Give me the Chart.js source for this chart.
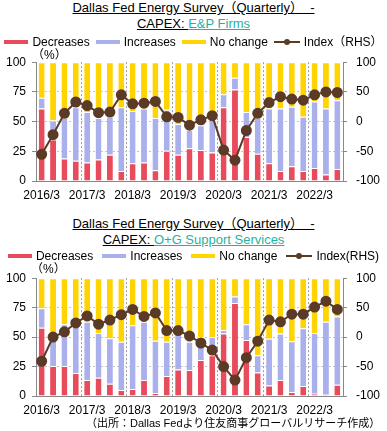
<!DOCTYPE html>
<html>
<head>
<meta charset="utf-8">
<script src="https://cdn.jsdelivr.net/npm/chart.js@4.4.0/dist/chart.umd.min.js"></script>
<style>
body { margin:0; width:387px; height:431px; background:#fff; position:relative; overflow:hidden;
  font-family: Arial, "Liberation Sans", "Noto Sans CJK JP", sans-serif; color:#000; }
canvas { position:absolute; left:0; }
.title { position:absolute; left:0; width:387px; text-align:center; font-size:13px; line-height:16px; white-space:pre; }
.title span { text-decoration: underline; }
.teal { color:#1fb3a3; }
.legend { position:absolute; left:0; width:387px; display:flex; justify-content:center; font-size:12px; line-height:14px; white-space:nowrap; }
.legend .item { display:flex; align-items:center; }
.legend .mark { width:24px; height:4px; margin-right:4px; }
.legend .lmark { position:relative; width:26px; height:2px; margin-right:4px; }
.legend .lmark i { position:absolute; left:10px; top:-2px; width:6px; height:6px; border-radius:3px; }
.pct { position:absolute; font-size:12px; line-height:14px; }
.src { position:absolute; left:86px; top:416px; font-size:11px; line-height:14px; white-space:nowrap;
  font-family: Arial, "Liberation Sans", "Noto Sans CJK JP", sans-serif; }
</style>
</head>
<body>
<canvas id="chart1" width="387" height="160" style="top:46px"></canvas>
<canvas id="chart2" width="387" height="159" style="top:262px"></canvas>

<div class="title" style="top:0px"><span>Dallas Fed Energy Survey（Quarterly）  -</span></div>
<div class="title" style="top:16px"><span>CAPEX: </span><span class="teal">E&amp;P Firms</span></div>
<div class="legend" id="legend1" style="top:35px"></div>
<div class="pct" style="left:32px; top:48px">（%）</div>

<div class="title" style="top:216px"><span>Dallas Fed Energy Survey（Quarterly）  -</span></div>
<div class="title" style="top:232px"><span>CAPEX: </span><span class="teal">O+G Support Services</span></div>
<div class="legend" id="legend2" style="top:249px"></div>
<div class="pct" style="left:31px; top:262px">（%）</div>

<div class="src">（出所：Dallas Fedより住友商事グローバルリサーチ作成）</div>

<script>
const labels = ['2016/3','2016/6','2016/9','2016/12','2017/3','2017/6','2017/9','2017/12',
  '2018/3','2018/6','2018/9','2018/12','2019/3','2019/6','2019/9','2019/12',
  '2020/3','2020/6','2020/9','2020/12','2021/3','2021/6','2021/9','2021/12',
  '2022/3','2022/6','2022/9'];

// E&P firms (%), index on right axis
const dec1 = [61,35,19,17,15.5,18,22,8.5,15,15.5,9,25.5,22,27.5,26,24,62,77,37,23,15,8.5,12.5,8.5,11,5.5,10];
const inc1 = [9,16,34,45,42.5,35,32,53.5,44,45.5,44,34.5,26,15.5,21,28,11,10,21,30,46,52.5,50,45.5,56,55.5,58];
const noch1 = [30,49,47,38,42,47,46,38,41,39,47,40,52,57,53,48,27,13,42,47,39,39,37.5,46,33,39,32];
const idx1 = [-55,-22,14,33,27,15,16,45,30,31,34,8,7,-6,3,10,-48,-65,-15,14,32,42,38,36,45,50,49];

// O+G support services
const dec2 = [58,25.5,25.5,19.5,13.5,15.5,10.5,5,6,13.5,2.5,17,22.5,22,30.5,34.5,53,79,47.5,20,9,13.5,3.5,8.5,2,1,9.5];
const inc2 = [16.5,28,35.5,41.5,49.5,38,38.5,41,54,49.5,44.5,29,30.5,24,19.5,15.5,3,5.5,13.5,14.5,39.5,39.5,43,49,51.5,62,58];
const noch2 = [25.5,46.5,39,39,37,46.5,51,54,40,37,53,54,47,54,50,50,44,15.5,39,65.5,51.5,47,53.5,42.5,46.5,37,32.5];
const idx2 = [-41,0,9,24,36,22,29,38,47,35,41,11,11,2,-10,-22,-50,-73,-35,-7,29,26,39,39,51,61,47];

const RED = '#e84c5c';
const BLUE = '#aab0ec';
const YELLOW = '#ffd400';
const BROWN = '#5b3a26';
const AXIS = '#888';

function bar(label, data, color) {
    return {
        type: 'bar', label: label, data: data, backgroundColor: color,
        borderColor: '#fff', borderWidth: {top: 1, left: 0, right: 0, bottom: 0},
        borderSkipped: 'start', barPercentage: 0.52, categoryPercentage: 1,
        yAxisID: 'y', order: 1
    };
}

function makeChart(id, dec, inc, noch, idx, idxLabel) {
    let data = {
        labels: labels,
        datasets: [
            bar('Decreases', dec, RED),
            bar('Increases', inc, BLUE),
            bar('No change', noch, YELLOW),
            {
                type: 'line', label: idxLabel, data: idx, yAxisID: 'y1',
                borderColor: BROWN, backgroundColor: BROWN, borderWidth: 2,
                pointRadius: 4.5, pointBackgroundColor: BROWN, pointBorderColor: BROWN,
                order: 0
            }
        ]
    };
    let tickFont = {family: 'Arial, "Liberation Sans", sans-serif', size: 12};
    let config = {
        type: 'bar',
        data,
        options: {
            responsive: false,
            animation: false,
            devicePixelRatio: 1,
            layout: {padding: {top: 16, left: 0, right: 0, bottom: 0}},
            plugins: {legend: {display: false}, tooltip: {enabled: false}},
            scales: {
                x: {
                    stacked: true,
                    offset: true,
                    grid: {
                        offset: true, drawTicks: false, lineWidth: 1,
                        color: c => (c.index > 0 && c.index % 4 === 0) ? '#9a9a9a' : 'rgba(0,0,0,0)'
                    },
                    border: {color: AXIS, dash: [2, 2]},
                    ticks: {
                        autoSkip: false, maxRotation: 0, minRotation: 0, padding: 7,
                        color: '#000', font: tickFont,
                        callback: (v, i) => i % 4 === 0 ? labels[i] : ''
                    },
                    afterFit: s => { s.height = 25; }
                },
                y: {
                    stacked: true, min: 0, max: 100,
                    position: 'left',
                    grid: {
                        tickLength: 4, tickColor: AXIS,
                        color: c => (c.tick && c.tick.value > 0 && c.tick.value < 100) ? '#c4c4c4' : 'rgba(0,0,0,0)'
                    },
                    border: {color: AXIS, dash: [2, 2]},
                    ticks: {stepSize: 25, padding: 6, color: '#000', font: tickFont},
                    afterFit: s => { s.width = 36; }
                },
                y1: {
                    min: -100, max: 100,
                    position: 'right',
                    grid: {drawOnChartArea: false, tickLength: 4, tickColor: AXIS},
                    border: {color: AXIS},
                    ticks: {stepSize: 50, padding: 9, color: '#000', font: tickFont},
                    afterFit: s => { s.width = 44; }
                }
            }
        }
    };
    return new Chart(document.getElementById(id), config);
}

// html legend built from the chart datasets
function buildLegend(chart, elId, gap) {
    let el = document.getElementById(elId);
    chart.data.datasets.forEach((ds, i) => {
        let item = document.createElement('div');
        item.className = 'item';
        if (i > 0) item.style.marginLeft = gap + 'px';
        let mark = document.createElement('div');
        if (ds.type === 'line') {
            mark.className = 'lmark';
            mark.style.background = ds.borderColor;
            let dot = document.createElement('i');
            dot.style.background = ds.borderColor;
            mark.appendChild(dot);
        } else {
            mark.className = 'mark';
            mark.style.background = ds.backgroundColor;
        }
        let txt = document.createElement('span');
        txt.textContent = ds.label;
        item.appendChild(mark);
        item.appendChild(txt);
        el.appendChild(item);
    });
}

let c1 = makeChart('chart1', dec1, inc1, noch1, idx1, 'Index（RHS）');
let c2 = makeChart('chart2', dec2, inc2, noch2, idx2, 'Index(RHS)');
buildLegend(c1, 'legend1', 6);
buildLegend(c2, 'legend2', 9);
</script>
</body>
</html>
